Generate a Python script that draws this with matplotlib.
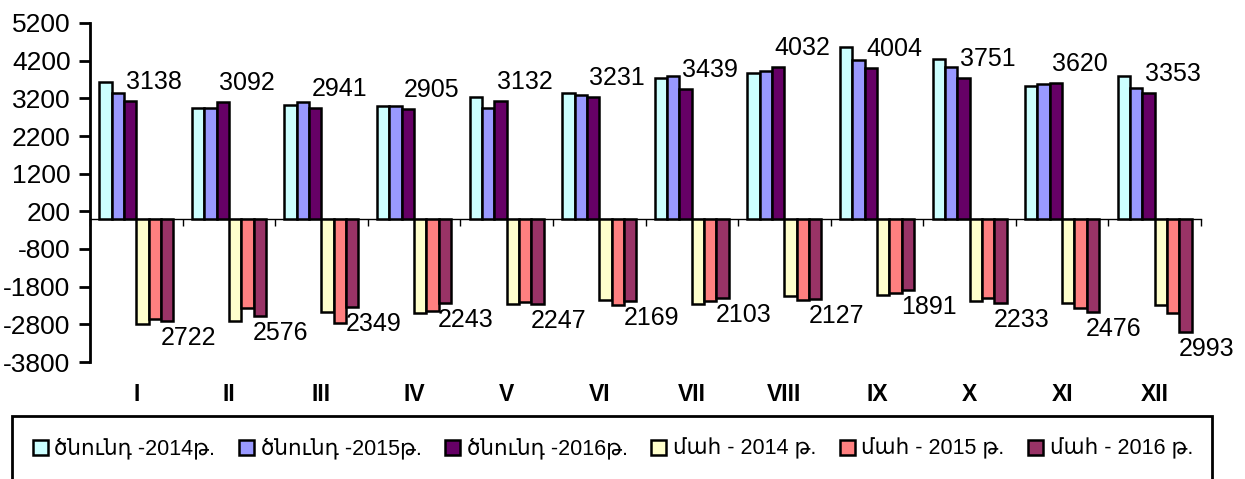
# Ծնունդներ և մահեր ըստ ամիսների, 2014-2016
import matplotlib.pyplot as plt
from matplotlib.patches import Rectangle

plt.rcParams['font.family'] = ['Liberation Sans', 'DejaVu Sans']
plt.rcParams['axes.unicode_minus'] = False

# Տվյալներ
amisner = ["I", "II", "III", "IV", "V", "VI", "VII", "VIII", "IX", "X", "XI", "XII"]
cnund_2014 = [3634, 2950, 3030, 2985, 3245, 3340, 3740, 3867, 4570, 4232, 3530, 3788]
cnund_2015 = [3340, 2940, 3092, 2995, 2950, 3290, 3805, 3920, 4205, 4036, 3583, 3486]
cnund_2016 = [3138, 3092, 2941, 2905, 3132, 3231, 3439, 4032, 4004, 3751, 3620, 3353]
mah_2014 = [-2800, -2710, -2470, -2496, -2248, -2141, -2248, -2061, -2008, -2168, -2230, -2292]
mah_2015 = [-2647, -2378, -2772, -2452, -2212, -2292, -2186, -2141, -1963, -2097, -2354, -2496]
mah_2016 = [-2722, -2576, -2349, -2243, -2247, -2169, -2103, -2127, -1891, -2233, -2476, -2993]

sharqer = [cnund_2014, cnund_2015, cnund_2016, mah_2014, mah_2015, mah_2016]
anunner = ["ծնունդ -2014թ.", "ծնունդ -2015թ.", "ծնունդ -2016թ.",
           "մահ - 2014 թ.", "մահ - 2015 թ.", "մահ - 2016 թ."]
guyner = ["#CCFFFF", "#9999FF", "#660066", "#FFFFCC", "#FF8080", "#993366"]

fig = plt.figure(figsize=(12.45, 4.79), dpi=100)
ax = fig.add_axes([90/1245, 1-362/479, (1201-90)/1245, (362-23)/479])

x = list(range(1, 13))
w = 0.8/6
bars = []
for k, (s, c, n) in enumerate(zip(sharqer, guyner, anunner)):
    pos = [xi + (k-2.5)*w for xi in x]
    b = ax.bar(pos, s, width=w, color=c, edgecolor="black", linewidth=1.8, label=n, zorder=3)
    bars.append(b)

# Պիտակներ 2016-ի համար
for xi, v in zip(x, cnund_2016):
    ax.annotate(str(v), (xi - 0.5*w, v), xytext=(24, 19),
                textcoords="offset pixels", ha="center", va="center", fontsize=18)
for xi, v in zip(x, mah_2016):
    ax.annotate(str(abs(v)), (xi + 2.5*w, v), xytext=(21, -17),
                textcoords="offset pixels", ha="center", va="center", fontsize=18)

ax.set_ylim(-3800, 5200)
ax.set_yticks(range(-3800, 5201, 1000))
ax.set_xlim(0.5, 12.5)
ax.set_xticks([i + 0.5 for i in range(0, 13)])
ax.set_xticklabels([])
ax.spines["top"].set_visible(False)
ax.spines["right"].set_visible(False)
ax.spines["bottom"].set_position(("data", 0))
ax.spines["bottom"].set_linewidth(1)
ax.spines["left"].set_linewidth(2)
ax.tick_params(axis="y", direction="out", length=8, width=2, labelsize=19, pad=6)
ax.tick_params(axis="x", direction="out", length=5, width=1)

for xi, m in zip(x, amisner):
    ax.text(xi, -0.096, m, transform=ax.get_xaxis_transform(), ha="center", va="center",
            fontsize=16.5, fontweight="bold")

# Լեգենդ
fig.patches.append(Rectangle((12/1245, -3/479), 1200/1245, 66/479, transform=fig.transFigure,
                             fill=False, edgecolor="black", linewidth=2))
fig.legend(handles=bars, loc="center", bbox_to_anchor=(613/1245, 1-449/479), ncol=6,
           frameon=False, fontsize=15.5, handlelength=0.7, handleheight=0.7,
           handletextpad=0.3, columnspacing=1.1)

plt.savefig("out.png", dpi=100)
